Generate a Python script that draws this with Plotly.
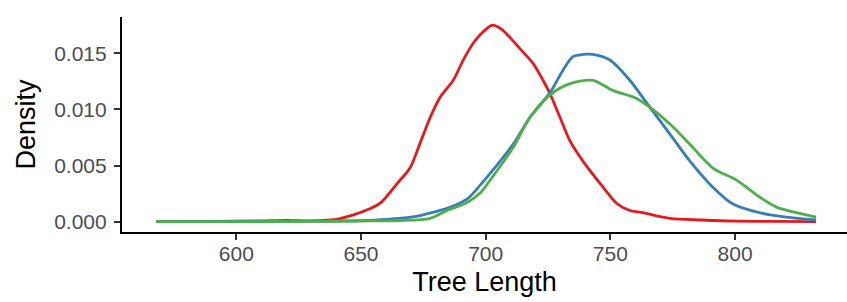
import plotly.graph_objects as go

# Series 1 (red)
red_x = [568, 590, 610, 620, 630, 640, 647, 653, 658, 664.5, 669.7, 673.7, 677.8, 681.8, 687, 691, 695, 698,
         702.6, 706, 709.8, 713.8, 719, 723, 725.8, 729.8, 733.8, 739, 747, 752.7, 757.8, 763, 773.9, 787,
         800.6, 815, 832.5]
red_y = [0.00001, 0.00003, 0.00008, 0.00012, 0.00008, 0.0002, 0.0006, 0.0011, 0.0017, 0.0034, 0.0048, 0.0070,
         0.0093, 0.0111, 0.0126, 0.0144, 0.0159, 0.0167, 0.0175, 0.0172, 0.0164, 0.0154, 0.0141, 0.0126, 0.0114,
         0.0093, 0.0072, 0.0054, 0.0031, 0.0016, 0.0010, 0.0008, 0.0003, 0.00015, 0.00005, 0.00002, 0.00001]

# Series 2 (blue)
blue_x = [568, 600, 630, 650, 660, 670, 680, 687, 692.5, 698, 701.8, 711, 717.8, 725.8, 731, 735, 739, 743,
          749.8, 757.8, 765.8, 773.9, 781.9, 791, 799, 809.8, 820.6, 832.5]
blue_y = [0.0, 0.00002, 0.00005, 0.0001, 0.0002, 0.0004, 0.0009, 0.0014, 0.0020, 0.0033, 0.0043, 0.0069,
          0.0093, 0.0115, 0.0135, 0.0147, 0.0149, 0.0149, 0.0144, 0.0126, 0.0102, 0.0078, 0.0054, 0.0031,
          0.0016, 0.0008, 0.0004, 0.00015]

# Series 3 (green)
green_x = [568, 600, 630, 650, 665, 677.8, 684.6, 692.5, 698, 701.8, 711, 717.8, 725.8, 733.8, 743, 751,
           760.3, 765.8, 773.9, 781.9, 791, 800.6, 809.8, 816.6, 824.6, 832.5]
green_y = [0.0, 0.00001, 0.00003, 0.00006, 0.0001, 0.0003, 0.0010, 0.0017, 0.0026, 0.0037, 0.0066, 0.0093,
           0.0113, 0.0123, 0.0126, 0.0117, 0.0110, 0.0102, 0.0087, 0.0069, 0.0048, 0.0037, 0.0022, 0.0013,
           0.0008, 0.0004]

x_ticks = [600, 650, 700, 750, 800]
y_ticks = [0.000, 0.005, 0.010, 0.015]
y_tick_labels = ["0.000", "0.005", "0.010", "0.015"]

series = [
    (red_x, red_y, "#E41A1C"),
    (blue_x, blue_y, "#377EB8"),
    (green_x, green_y, "#4DAF4A"),
]

fig = go.Figure()
for xs, ys, col in series:
    fig.add_trace(go.Scatter(x=xs, y=ys, mode="lines",
                             line=dict(color=col, width=2.8, shape="spline", smoothing=0.8),
                             showlegend=False, hoverinfo="skip"))

font_family = "Liberation Sans, Arial, sans-serif"
fig.update_layout(
    width=847, height=302,
    margin=dict(l=122, r=0, t=17, b=70),
    paper_bgcolor="white", plot_bgcolor="white",
    font=dict(family=font_family),
    xaxis=dict(
        range=[554.16, 844.9], tickvals=x_ticks, showgrid=False, zeroline=False,
        showline=True, linecolor="black", linewidth=2.2,
        ticks="outside", ticklen=6, tickwidth=1.6, tickcolor="#333333",
        ticklabelstandoff=-4,
        tickfont=dict(size=21, color="#4D4D4D", family=font_family),
        title=dict(text="Tree Length", font=dict(size=27, color="black", family=font_family), standoff=8),
    ),
    yaxis=dict(
        range=[-0.000918, 0.018235], tickvals=y_ticks, ticktext=y_tick_labels, showgrid=False, zeroline=False,
        showline=True, linecolor="black", linewidth=2.2,
        ticks="outside", ticklen=6, tickwidth=1.6, tickcolor="#333333",
        ticklabelstandoff=3,
        tickfont=dict(size=21, color="#4D4D4D", family=font_family),
        title=dict(text="Density", font=dict(size=27, color="black", family=font_family), standoff=11),
    ),
)

fig.write_html("out.html", config={"displayModeBar": False},
               post_script="document.body.style.margin='0';document.body.style.overflow='hidden';")
